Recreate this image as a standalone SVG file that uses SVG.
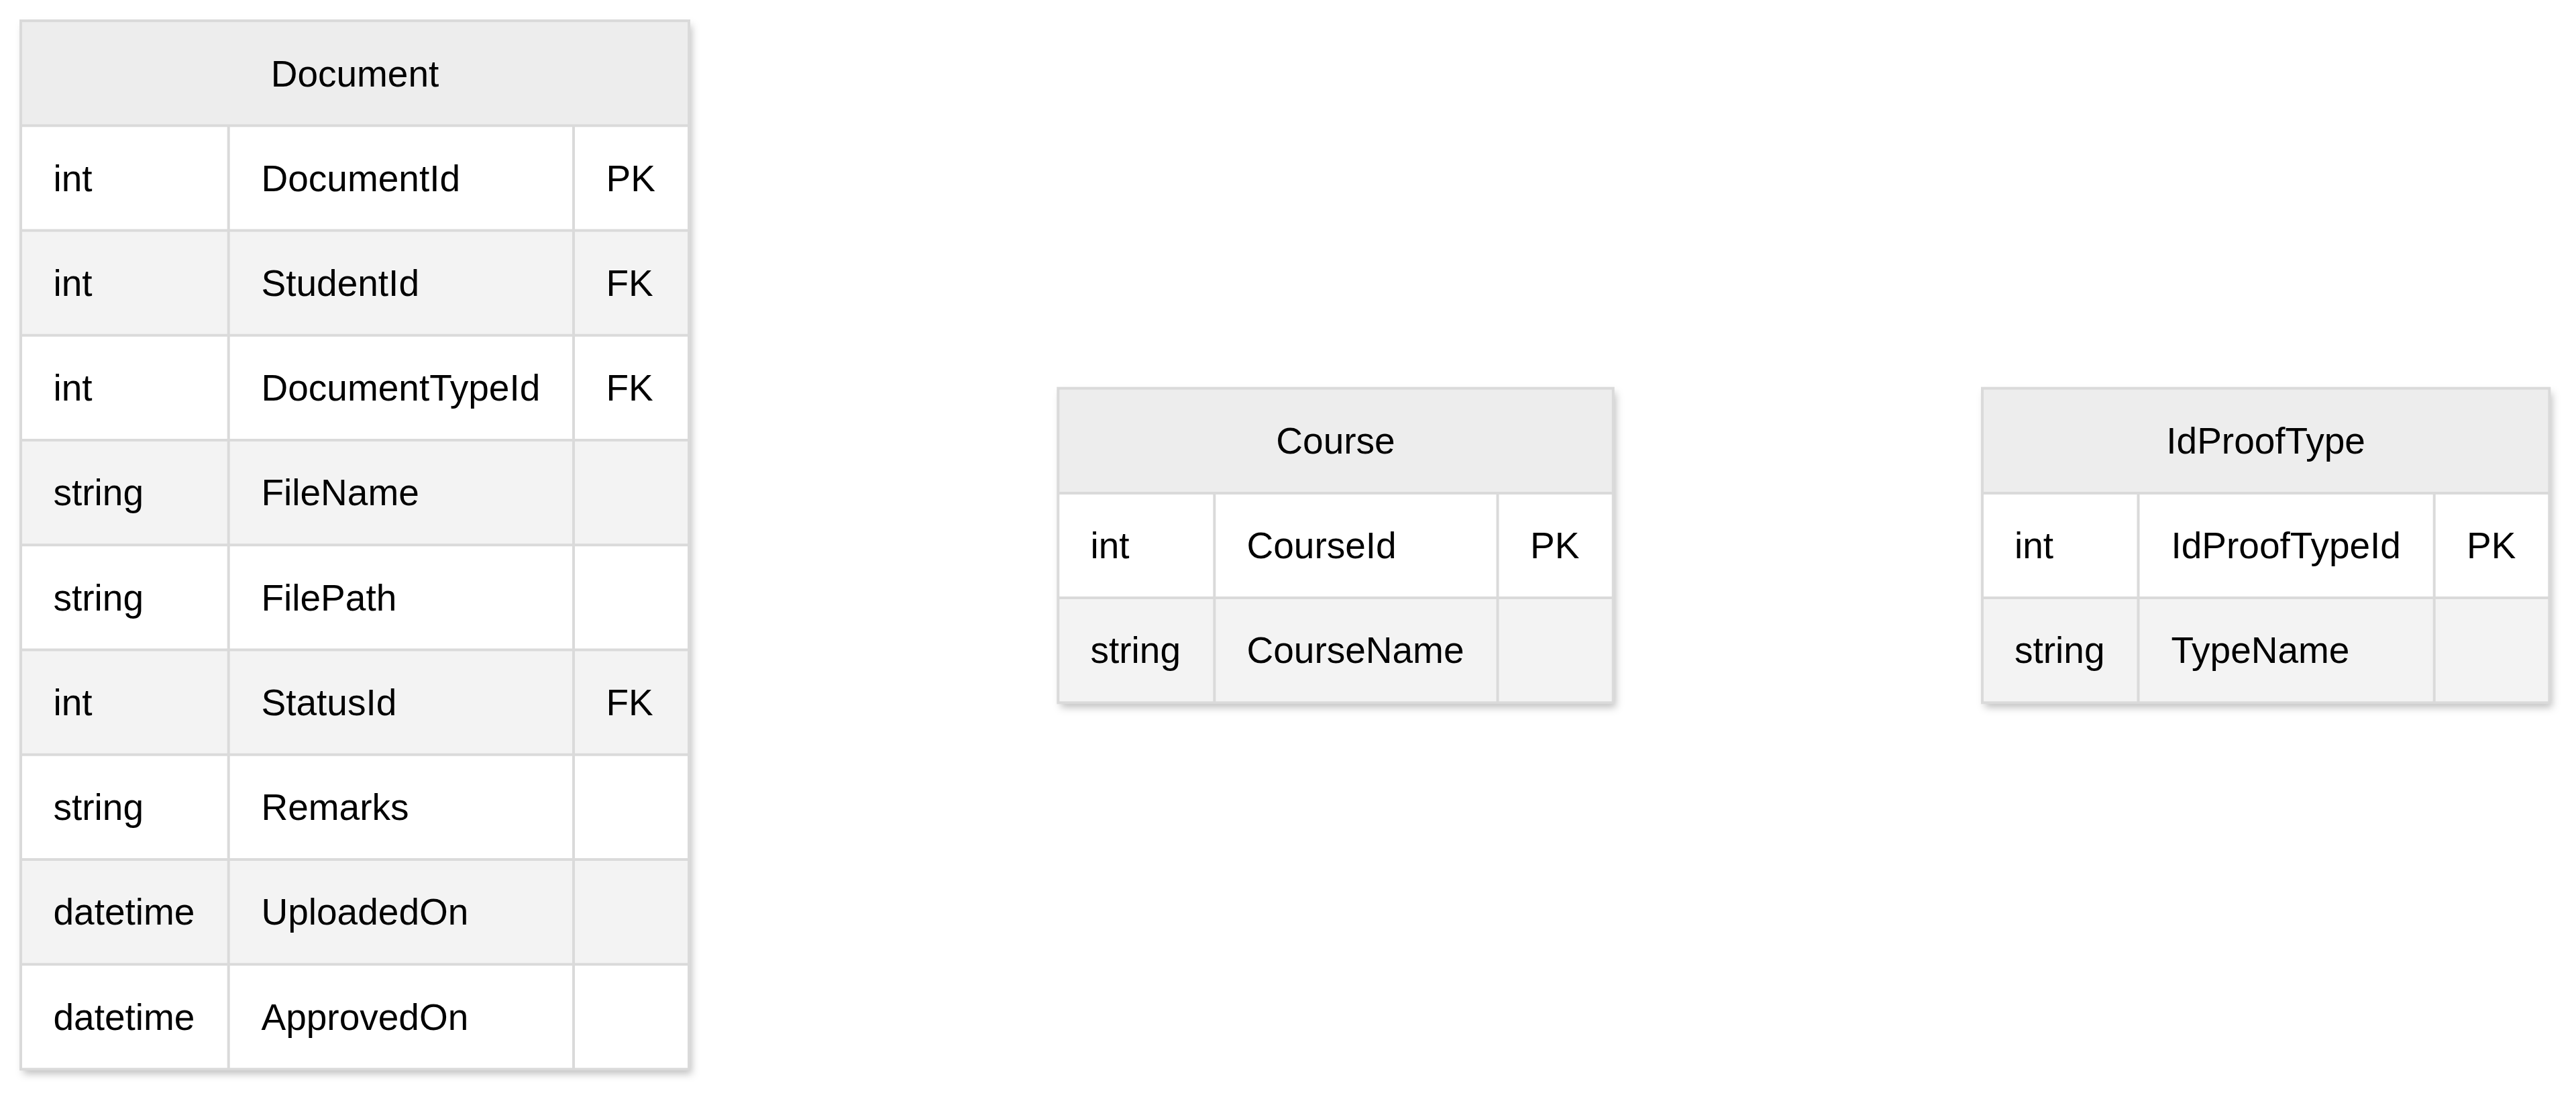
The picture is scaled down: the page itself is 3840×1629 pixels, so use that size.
<svg xmlns="http://www.w3.org/2000/svg" width="3840" height="1629" viewBox="0 0 3840 1629">
  <style>
    text { font-family: "Liberation Sans", Arial, sans-serif; font-size: 55px; fill: #000000; }
    .hdr { text-anchor: middle; }
    .head { fill: #ededed; }
    .odd { fill: #ffffff; }
    .even { fill: #f3f3f3; }
    .grid { stroke: #dadada; stroke-width: 4; fill: none; }
  </style>
  <defs>
    <filter id="shadow" x="-10%" y="-10%" width="125%" height="125%">
      <feDropShadow dx="4" dy="7" stdDeviation="6" flood-color="#000000" flood-opacity="0.25"/>
    </filter>
  </defs>
  <rect x="0" y="0" width="3840" height="1629" fill="#ffffff"/>

  <g id="node-document">
    <rect x="31" y="31" width="996" height="1562.5" fill="#ffffff" filter="url(#shadow)"/>
    <rect class="head" x="31" y="31" width="996" height="156.25"/>
    <rect class="odd" x="31" y="187.25" width="996" height="156.25"/>
    <rect class="even" x="31" y="343.5" width="996" height="156.25"/>
    <rect class="odd" x="31" y="499.75" width="996" height="156.25"/>
    <rect class="even" x="31" y="656" width="996" height="156.25"/>
    <rect class="odd" x="31" y="812.25" width="996" height="156.25"/>
    <rect class="even" x="31" y="968.5" width="996" height="156.25"/>
    <rect class="odd" x="31" y="1124.75" width="996" height="156.25"/>
    <rect class="even" x="31" y="1281" width="996" height="156.25"/>
    <rect class="odd" x="31" y="1437.25" width="996" height="156.25"/>
    <path class="grid" d="M31 187.25H1027M31 343.5H1027M31 499.75H1027M31 656H1027M31 812.25H1027M31 968.5H1027M31 1124.75H1027M31 1281H1027M31 1437.25H1027M340.7 187.25V1593.5M855 187.25V1593.5"/>
    <rect class="grid" x="31" y="31" width="996" height="1562.5"/>
    <text class="hdr" x="529" y="128.5">Document</text>
    <text x="79.5" y="284.5">int</text><text x="389.5" y="284.5">DocumentId</text><text x="903.5" y="284.5">PK</text>
    <text x="79.5" y="440.75">int</text><text x="389.5" y="440.75">StudentId</text><text x="903.5" y="440.75">FK</text>
    <text x="79.5" y="597">int</text><text x="389.5" y="597">DocumentTypeId</text><text x="903.5" y="597">FK</text>
    <text x="79.5" y="753.25">string</text><text x="389.5" y="753.25">FileName</text>
    <text x="79.5" y="909.5">string</text><text x="389.5" y="909.5">FilePath</text>
    <text x="79.5" y="1065.75">int</text><text x="389.5" y="1065.75">StatusId</text><text x="903.5" y="1065.75">FK</text>
    <text x="79.5" y="1222">string</text><text x="389.5" y="1222">Remarks</text>
    <text x="79.5" y="1378.25">datetime</text><text x="389.5" y="1378.25">UploadedOn</text>
    <text x="79.5" y="1534.5">datetime</text><text x="389.5" y="1534.5">ApprovedOn</text>
  </g>

  <g id="node-course">
    <rect x="1577.3" y="578.7" width="827.4" height="468.6" fill="#ffffff" filter="url(#shadow)"/>
    <rect class="head" x="1577.3" y="578.7" width="827.4" height="156.2"/>
    <rect class="odd" x="1577.3" y="734.9" width="827.4" height="156.2"/>
    <rect class="even" x="1577.3" y="891.1" width="827.4" height="156.2"/>
    <path class="grid" d="M1577.3 734.9H2404.7M1577.3 891.1H2404.7M1810.3 734.9V1047.3M2232.5 734.9V1047.3"/>
    <rect class="grid" x="1577.3" y="578.7" width="827.4" height="468.6"/>
    <text class="hdr" x="1991" y="676">Course</text>
    <text x="1625.5" y="832">int</text><text x="1858.5" y="832">CourseId</text><text x="2281" y="832">PK</text>
    <text x="1625.5" y="988">string</text><text x="1858.5" y="988">CourseName</text>
  </g>

  <g id="node-idprooftype">
    <rect x="2955" y="578.7" width="845.3" height="468.6" fill="#ffffff" filter="url(#shadow)"/>
    <rect class="head" x="2955" y="578.7" width="845.3" height="156.2"/>
    <rect class="odd" x="2955" y="734.9" width="845.3" height="156.2"/>
    <rect class="even" x="2955" y="891.1" width="845.3" height="156.2"/>
    <path class="grid" d="M2955 734.9H3800.3M2955 891.1H3800.3M3187.5 734.9V1047.3M3628.7 734.9V1047.3"/>
    <rect class="grid" x="2955" y="578.7" width="845.3" height="468.6"/>
    <text class="hdr" x="3377.6" y="676">IdProofType</text>
    <text x="3003" y="832">int</text><text x="3236.5" y="832">IdProofTypeId</text><text x="3677" y="832">PK</text>
    <text x="3003" y="988">string</text><text x="3236.5" y="988">TypeName</text>
  </g>

  <g id="connectors"></g>
</svg>
